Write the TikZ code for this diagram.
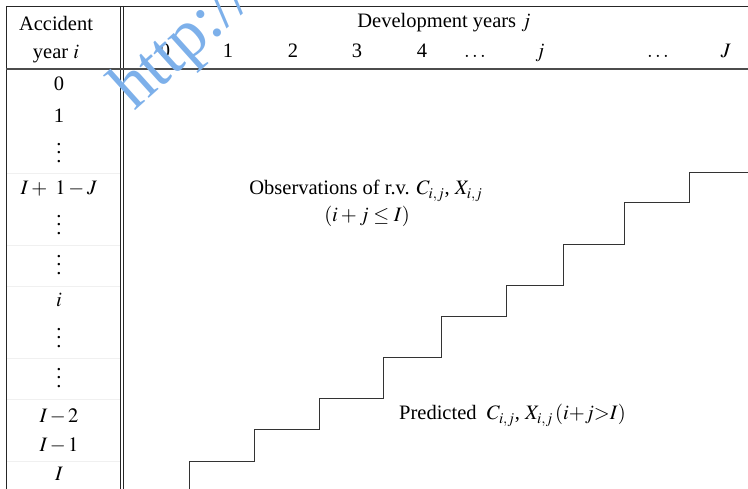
\documentclass[tikz,border=0pt]{standalone}
\usepackage{mathptmx}
\usepackage[no-math]{fontspec}
\setmainfont{Liberation Serif}
\newcommand{\myvd}{\vbox{\baselineskip=8.5pt\lineskiplimit=0pt\hbox{.}\hbox{.}\hbox{.}}}
\definecolor{wmblue}{RGB}{125,176,234}
\tikzset{
  lbl/.style={inner sep=0pt, anchor=base, font=\fontsize{20.5}{24}\selectfont},
  dts/.style={inner sep=0pt, anchor=center, font=\fontsize{20.5}{24}\selectfont},
  rule/.style={line width=0.9pt, black!85},
  hrule/.style={line width=1.2pt, black!70},
  faint/.style={line width=0.4pt, black!6},
  stair/.style={line width=1pt, black!80},
}
\begin{document}
\begin{tikzpicture}[x=1pt,y=-1pt]
\useasboundingbox (0,0) rectangle (748,489);
\clip (0,0) rectangle (748,489);
% faint row lines in left column
\foreach \yy in {173,245,286,358,399,461} \draw[faint] (6,\yy) -- (120,\yy);
% frame
\draw[rule] (6,6) -- (748,6);
\draw[rule] (6,6) -- (6,489);
\draw[rule] (120.3,6) -- (120.3,489);
\draw[rule] (123.6,6) -- (123.6,489);
\draw[hrule] (6,69) -- (748,69);
% header
\node[lbl] (acc) at (56,31) {Accident};
\node[lbl] (yr) at (56,59) {year $i$};
\node[lbl] (dev) at (444,28) {Development years $j$};
\node[lbl] (c0) at (165,58) {0};
\node[lbl] (c1) at (228,58) {1};
\node[lbl] (c2) at (293,58) {2};
\node[lbl] (c3) at (357,58) {3};
\node[lbl] (c4) at (422,58) {4};
\node[lbl] (cd1) at (475,58) {$\dots$};
\node[lbl] (cj) at (540,58) {$j$};
\node[lbl] (cd2) at (658,58) {$\dots$};
\node[lbl] (cJ) at (726,58) {$J$};
% rows
\node[lbl] (r0) at (59,91) {0};
\node[lbl] (r1) at (59,123) {1};
\node[dts] (v1) at (59,153) {\myvd};
\node[lbl] (rIJ) at (59,195) {$I +\ 1 - J$};
\node[dts] (v2) at (59,225) {\myvd};
\node[dts] (v3) at (59,265) {\myvd};
\node[lbl] (ri) at (59,307) {$i$};
\node[dts] (v4) at (59,338) {\myvd};
\node[dts] (v5) at (59,378) {\myvd};
\node[lbl] (rI2) at (59,422) {$I\mkern2mu{-}\mkern2mu2$};
\node[lbl] (rI1) at (59,452) {$I\mkern2mu{-}\mkern2mu1$};
\node[lbl] (rI) at (59,480) {$I$};
% texts
\node[lbl] (obs1) at (366,195) {Observations of r.v. $C_{i,j}$, $X_{i,j}$};
\node[lbl] (obs2) at (367,222) {$(i + j \le I)$};
\node[lbl, anchor=base west] (pred) at (399,420) {Predicted~ $C_{i,j}$, $X_{i,j}\,(i{+}j{>}I)$};
% staircase
\draw[stair] (189,489) -- (189,461) -- (254,461) -- (254,430) -- (319,430) -- (319,399)
  -- (383,399) -- (383,358) -- (441,358) -- (441,317) -- (506,317) -- (506,286)
  -- (563,286) -- (563,245) -- (624,245) -- (624,203) -- (689,203) -- (689,173) -- (748,173);
% watermark
\node[inner sep=0pt, anchor=base west, rotate=42, text=wmblue,
  font=\fontsize{68}{74}\selectfont] (wm) at (134,112) {http://};
\end{tikzpicture}
\end{document}
